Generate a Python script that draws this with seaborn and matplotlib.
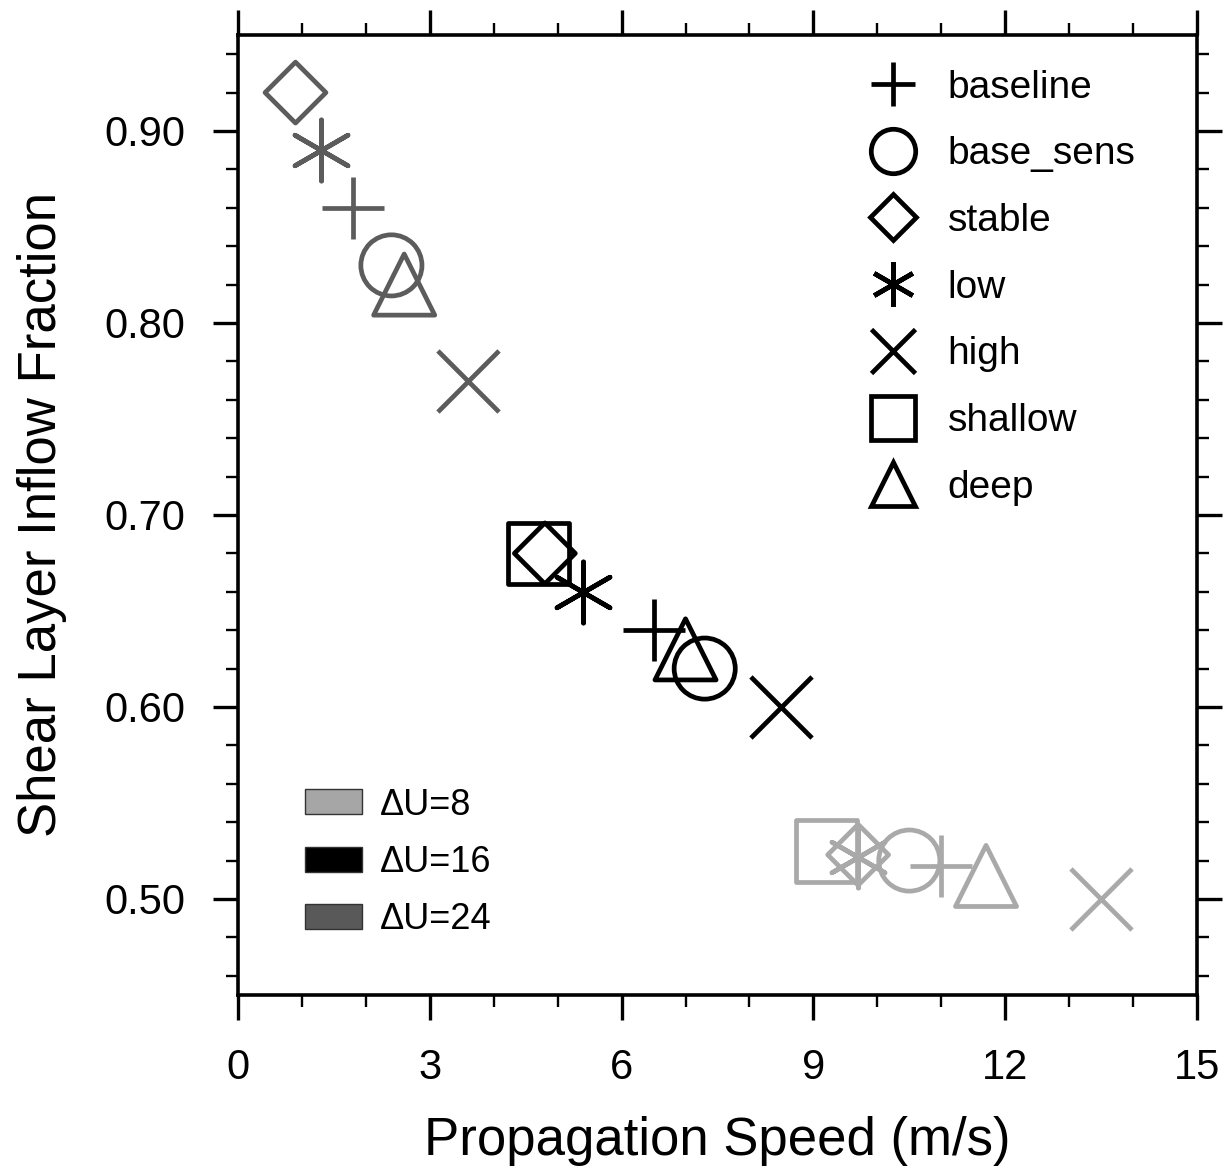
import numpy as np
import pandas as pd
import matplotlib
matplotlib.use("Agg")
import matplotlib.pyplot as plt
from matplotlib.lines import Line2D
from matplotlib.patches import Patch
from matplotlib.markers import MarkerStyle
from matplotlib.ticker import MultipleLocator, FormatStrFormatter
import seaborn as sns

# ---------------- data ----------------
experiments = ["baseline", "base_sens", "stable", "low", "high", "shallow", "deep"]
du_levels = ["\u0394U=8", "\u0394U=16", "\u0394U=24"]

speed_du8 = [11.0, 10.5, 9.7, 9.7, 13.5, 9.2, 11.7]
frac_du8 = [0.517, 0.520, 0.523, 0.522, 0.500, 0.525, 0.512]

speed_du16 = [6.5, 7.3, 4.8, 5.4, 8.5, 4.7, 7.0]
frac_du16 = [0.640, 0.620, 0.680, 0.660, 0.600, 0.680, 0.630]

speed_du24 = [1.8, 2.4, 0.9, 1.3, 3.6, np.nan, 2.6]
frac_du24 = [0.860, 0.830, 0.920, 0.890, 0.770, np.nan, 0.820]

# ---------------- style ----------------
marker_map = {
    "baseline": "+",
    "base_sens": "o",
    "stable": "D",
    "low": (6, 2, 0),
    "high": "x",
    "shallow": "s",
    "deep": "^",
}
size_map = {k: 44.0 for k in experiments}
size_map["stable"] = 31.0
filled_markers = {"base_sens", "stable", "shallow", "deep"}

du_colors = {"\u0394U=8": "#a9a9a9", "\u0394U=16": "#000000", "\u0394U=24": "#5c5c5c"}
patch_colors = {"\u0394U=8": "#a6a6a6", "\u0394U=16": "#000000", "\u0394U=24": "#595959"}

frames = []
for lvl, sp, fr in zip(du_levels, [speed_du8, speed_du16, speed_du24],
                       [frac_du8, frac_du16, frac_du24]):
    frames.append(pd.DataFrame({"speed": sp, "frac": fr,
                                "experiment": experiments, "dU": lvl}))
df = pd.concat(frames, ignore_index=True).dropna()

sns.set_style("ticks")
plt.rcParams["font.family"] = ["Liberation Sans", "DejaVu Sans"]
plt.rcParams["text.color"] = "black"
plt.rcParams["axes.labelcolor"] = "black"
plt.rcParams["xtick.color"] = "black"
plt.rcParams["ytick.color"] = "black"

fig = plt.figure(figsize=(12.31, 11.74), dpi=100)
ax = fig.add_axes([0.1933, 0.1525, 0.7791, 0.8177])

LW = 3.4
for lvl in du_levels:
    for exp in experiments:
        sub = df[(df["dU"] == lvl) & (df["experiment"] == exp)]
        if sub.empty:
            continue
        m = marker_map[exp]
        if exp in filled_markers:
            m = MarkerStyle(m, fillstyle="none")
        else:
            m = MarkerStyle(m)
        sns.scatterplot(data=sub, x="speed", y="frac", ax=ax, marker=m,
                        s=size_map[exp] ** 2, color=du_colors[lvl],
                        linewidths=LW, legend=False, zorder=3)

ax.set_xlim(0, 15)
ax.set_ylim(0.45, 0.95)
ax.xaxis.set_major_locator(MultipleLocator(3))
ax.xaxis.set_minor_locator(MultipleLocator(1))
ax.yaxis.set_major_locator(MultipleLocator(0.1))
ax.yaxis.set_minor_locator(MultipleLocator(0.02))
ax.yaxis.set_major_formatter(FormatStrFormatter("%.2f"))
ax.set_yticks([0.5, 0.6, 0.7, 0.8, 0.9])

for sp in ax.spines.values():
    sp.set_visible(True)
    sp.set_linewidth(2.6)
    sp.set_color("black")

ax.tick_params(which="both", direction="out", top=True, right=True,
               bottom=True, left=True, colors="black", labelcolor="black")
ax.tick_params(which="major", length=18, width=2.4, labelsize=30, pad=20)
ax.tick_params(which="minor", length=8.5, width=1.7)

ax.set_xlabel("Propagation Speed (m/s)", fontsize=38, labelpad=20, color="black")
ax.set_ylabel("Shear Layer Inflow Fraction", fontsize=38, labelpad=27, color="black")

# legend for experiments
exp_handles = []
for exp in experiments:
    ms = 32 if exp != "stable" else 23
    fs = "none" if exp in filled_markers else "full"
    exp_handles.append(Line2D([], [], linestyle="none", marker=marker_map[exp],
                              markersize=ms, color="black", fillstyle=fs,
                              markeredgewidth=LW, label=exp))
leg1 = ax.legend(handles=exp_handles, loc="upper left",
                 bbox_to_anchor=(0.653, 0.964), frameon=False, fontsize=28,
                 handlelength=1.5, handletextpad=0.64, labelspacing=0.79,
                 borderpad=0, borderaxespad=0, labelcolor="black")
ax.add_artist(leg1)

du_handles = [Patch(facecolor=patch_colors[l], edgecolor="#333333",
                    linewidth=1.0, label=l) for l in du_levels]
ax.legend(handles=du_handles, loc="upper left", bbox_to_anchor=(0.070, 0.216),
          frameon=False, fontsize=26, handlelength=1.58, handleheight=0.69,
          handletextpad=0.5, labelspacing=0.62, borderpad=0, borderaxespad=0,
          labelcolor="black")

fig.savefig("out.png", dpi=100)
